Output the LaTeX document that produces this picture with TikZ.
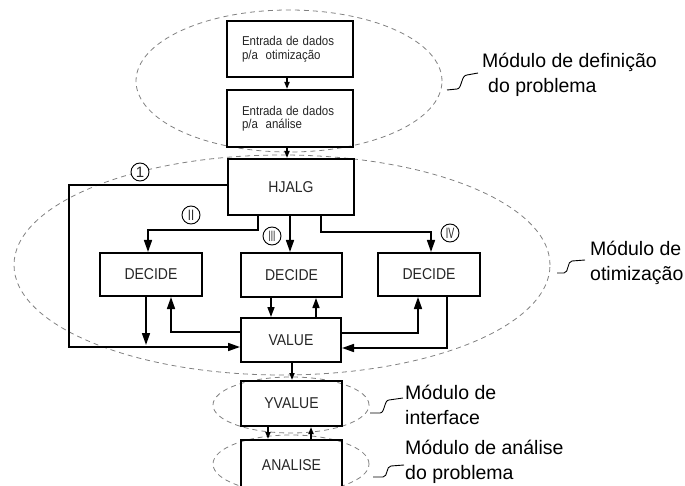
\documentclass[tikz,border=0pt]{standalone}
\usepackage{fontspec}
\usepackage{graphicx}
\setmainfont{Liberation Sans}
\usetikzlibrary{arrows.meta,calc}
\newcommand\talltxt[1]{\scalebox{1}[1.12]{#1}}
\begin{document}
\begin{tikzpicture}[x=1pt,y=-1pt,
  box/.style={draw, line width=2pt, inner sep=0pt, text=black!85, font=\fontsize{14}{16}\selectfont},
  inbox/.style={box, align=left, text width=96pt, inner xsep=15pt, font=\fontsize{11.5}{13.5}\selectfont},
  conn/.style={line width=1.6pt},
  bigarr/.style={conn, -{Triangle[length=12pt,width=8pt]}},
  midarr/.style={conn, -{Triangle[length=10pt,width=7pt]}},
  smallarr/.style={conn, -{Triangle[length=7pt,width=5pt]}},
  modline/.style={draw=gray, dash pattern=on 5pt off 4pt, line width=0.8pt},
  lbl/.style={font=\fontsize{19.5}{25}\selectfont, anchor=west, inner sep=0pt, align=left},
  circ/.style={circle, draw, fill=white, line width=0.9pt, minimum size=18pt, inner sep=0pt, text=black!85, font=\fontsize{15}{15}\selectfont},
  squig/.style={line width=0.9pt}
]
\useasboundingbox (0,0) rectangle (685,486);

% module ellipses
\draw[modline] (289,81) ellipse [x radius=153pt, y radius=71pt];
\draw[modline] (282,265) ellipse [x radius=268pt, y radius=110pt];
\draw[modline] (291,405) ellipse [x radius=78pt, y radius=28pt];
\draw[modline] (291,464) ellipse [x radius=78pt, y radius=29pt];

% boxes
\node[inbox, minimum width=126pt, minimum height=56pt] (in1) at (290,49) {\talltxt{Entrada de dados}\\\talltxt{p/a~ otimização}};
\node[inbox, minimum width=126pt, minimum height=57pt] (in2) at (290,118.5) {\talltxt{Entrada de dados}\\\talltxt{p/a~ análise}};
\node[box, minimum width=126pt, minimum height=56pt] (hj) at (291,187) {\talltxt{HJALG}};
\node[box, minimum width=102pt, minimum height=43pt] (d1) at (151,274.5) {\talltxt{DECIDE}};
\node[box, minimum width=101pt, minimum height=44pt] (d2) at (291.5,275) {\talltxt{DECIDE}};
\node[box, minimum width=102pt, minimum height=43pt] (d3) at (429,274.5) {\talltxt{DECIDE}};
\node[box, minimum width=100pt, minimum height=44pt] (val) at (291,340) {\talltxt{VALUE}};
\node[box, minimum width=101pt, minimum height=45pt] (yv) at (291.5,403.5) {\talltxt{YVALUE}};
\node[box, minimum width=101pt, minimum height=50pt] (an) at (291.5,465) {\talltxt{ANALISE}};

% connectors
\draw[smallarr] (in1.south -| 287,0) -- (in2.north -| 287,0);
\draw[smallarr] (in2.south -| 287,0) -- (hj.north -| 287,0);
\coordinate (lc) at (69,347);
\draw[bigarr] (hj.west |- 0,185) -| (lc) -- (val.west |- lc);
\draw[bigarr] (hj.south -| 258,0) |- (148,230) -- (d1.north -| 148,0);
\draw[bigarr] (hj.south -| 290,0) -- (d2.north -| 290,0);
\draw[bigarr] (hj.south -| 321,0) |- (431,232) -- (d3.north -| 431,0);
\draw[bigarr] (d1.south -| 146,0) -- (146,345);
\draw[bigarr] (val.west |- 0,332) -| (d1.south -| 171,0);
\draw[midarr] (d2.south -| 271,0) -- (val.north -| 271,0);
\draw[midarr] (val.north -| 316,0) -- (d2.south -| 316,0);
\draw[bigarr] (val.east |- 0,333) -| (d3.south -| 418,0);
\draw[bigarr] (d3.south -| 447,0) |- (val.east |- 0,348);
\draw[smallarr] (val.south -| 292,0) -- (yv.north -| 292,0);
\draw[smallarr] (yv.south -| 268,0) -- (an.north -| 268,0);
\draw[smallarr] (an.north -| 311,0) -- (yv.south -| 311,0);

% circled labels
\node[circ] (c1) at (140,172) {1};
\node[circ] (c2) at (191,215) {\scalebox{0.75}[1]{II}};
\node[circ] (c3) at (272,236) {\scalebox{0.55}[1]{III}};
\node[circ] (c4) at (450,233) {\scalebox{0.6}[1]{IV}};

% module labels
\node[lbl] (ldef) at (482,75) {Módulo de definição\\\hspace{6pt}do problema};
\node[lbl] (lot) at (590,263) {Módulo de\\otimização};
\node[lbl] (lif) at (405,405) {Módulo de\\interface};
\node[lbl] (lan) at (405,462) {Módulo de análise\\do problema};

% squiggles
\draw[squig] (447,90) -- (457,89) .. controls (462,89) and (461,75) .. (467,75) -- (478,73);
\draw[squig] (557,273) -- (564,273) .. controls (569,273) and (567,261) .. (572,261) -- (585,260);
\draw[squig] (370,413) -- (380,413) .. controls (385,413) and (384,400) .. (389,400) -- (403,398);
\draw[squig] (373,477) -- (383,477) .. controls (388,477) and (386,466) .. (391,466) -- (404,465);
\end{tikzpicture}
\end{document}
